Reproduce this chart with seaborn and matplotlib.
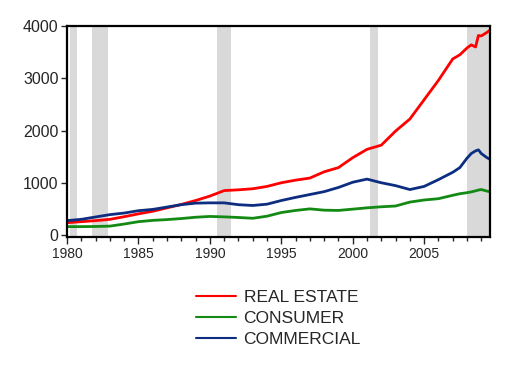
import pandas as pd
import seaborn as sns
import matplotlib.pyplot as plt
from matplotlib.ticker import MultipleLocator
from matplotlib.lines import Line2D

# years (denser near the end where lines wiggle)
years = [1980, 1981, 1982, 1983, 1984, 1985, 1986, 1987, 1988, 1989,
         1990, 1991, 1992, 1993, 1994, 1995, 1996, 1997, 1998, 1999,
         2000, 2001, 2002, 2003, 2004, 2005, 2006, 2007, 2007.5, 2008,
         2008.3, 2008.6, 2008.8, 2009, 2009.4, 2009.6]

real_estate = [235, 255, 275, 300, 350, 405, 455, 520, 585, 660,
               745, 850, 865, 885, 930, 1000, 1050, 1090, 1210, 1290,
               1480, 1640, 1720, 1990, 2220, 2590, 2960, 3370, 3450, 3580,
               3640, 3600, 3820, 3810, 3880, 3920]
consumer = [160, 160, 163, 170, 210, 255, 280, 295, 315, 340,
            355, 347, 335, 320, 360, 430, 470, 500, 475, 470,
            495, 520, 540, 555, 630, 670, 695, 760, 790, 810,
            825, 845, 860, 870, 840, 830]
commercial = [275, 300, 345, 390, 420, 465, 490, 535, 580, 610,
              615, 615, 580, 565, 590, 660, 720, 775, 830, 910,
              1010, 1070, 1000, 945, 870, 930, 1060, 1200, 1290, 1470,
              1560, 1610, 1630, 1560, 1480, 1450]

recessions = [(1980.17, 1980.66), (1981.76, 1982.9), (1990.5, 1991.45),
              (2001.2, 2001.8), (2008.0, 2009.6)]

series = ["REAL ESTATE", "CONSUMER", "COMMERCIAL"]
colors = {"REAL ESTATE": "#ff0000", "CONSUMER": "#138a13", "COMMERCIAL": "#0c2d80"}

df = pd.DataFrame({"year": years, "REAL ESTATE": real_estate,
                   "CONSUMER": consumer, "COMMERCIAL": commercial})
long = df.melt(id_vars="year", var_name="series", value_name="value")

sns.set_style("ticks")
plt.rcParams["font.family"] = ["Liberation Sans", "DejaVu Sans"]

fig = plt.figure(figsize=(5.2, 3.67), dpi=100)
ax = fig.add_axes([0.129, 0.354, 0.813, 0.575])

for a, b in recessions:
    ax.axvspan(a, b, color="#d9d9d9", lw=0, zorder=0)

sns.lineplot(data=long, x="year", y="value", hue="series", hue_order=series,
             palette=colors, lw=2, legend=False, ax=ax)

ax.set_xlim(1980, 2009.6)
ax.set_ylim(-40, 4000)
ax.set_yticks([0, 1000, 2000, 3000, 4000])
ax.xaxis.set_major_locator(MultipleLocator(5))
ax.xaxis.set_minor_locator(MultipleLocator(1))
ax.tick_params(axis="y", labelsize=11.5, length=4, width=1, direction="out", pad=2)
ax.tick_params(axis="x", which="major", labelsize=10, length=5, width=1, direction="out", pad=2)
ax.tick_params(axis="x", which="minor", length=3, width=1, direction="out")
ax.set_xlabel("")
ax.set_ylabel("")
for s in ax.spines.values():
    s.set_linewidth(1.6)
    s.set_color("black")

handles = [Line2D([], [], color=colors[s], lw=1.5) for s in series]
fig.legend(handles, series, loc="upper left", bbox_to_anchor=(0.36, 0.235),
           frameon=False, fontsize=12.5, handlelength=2.3, handletextpad=0.45,
           labelspacing=0.36, borderpad=0)

fig.savefig("out.png", dpi=100)
